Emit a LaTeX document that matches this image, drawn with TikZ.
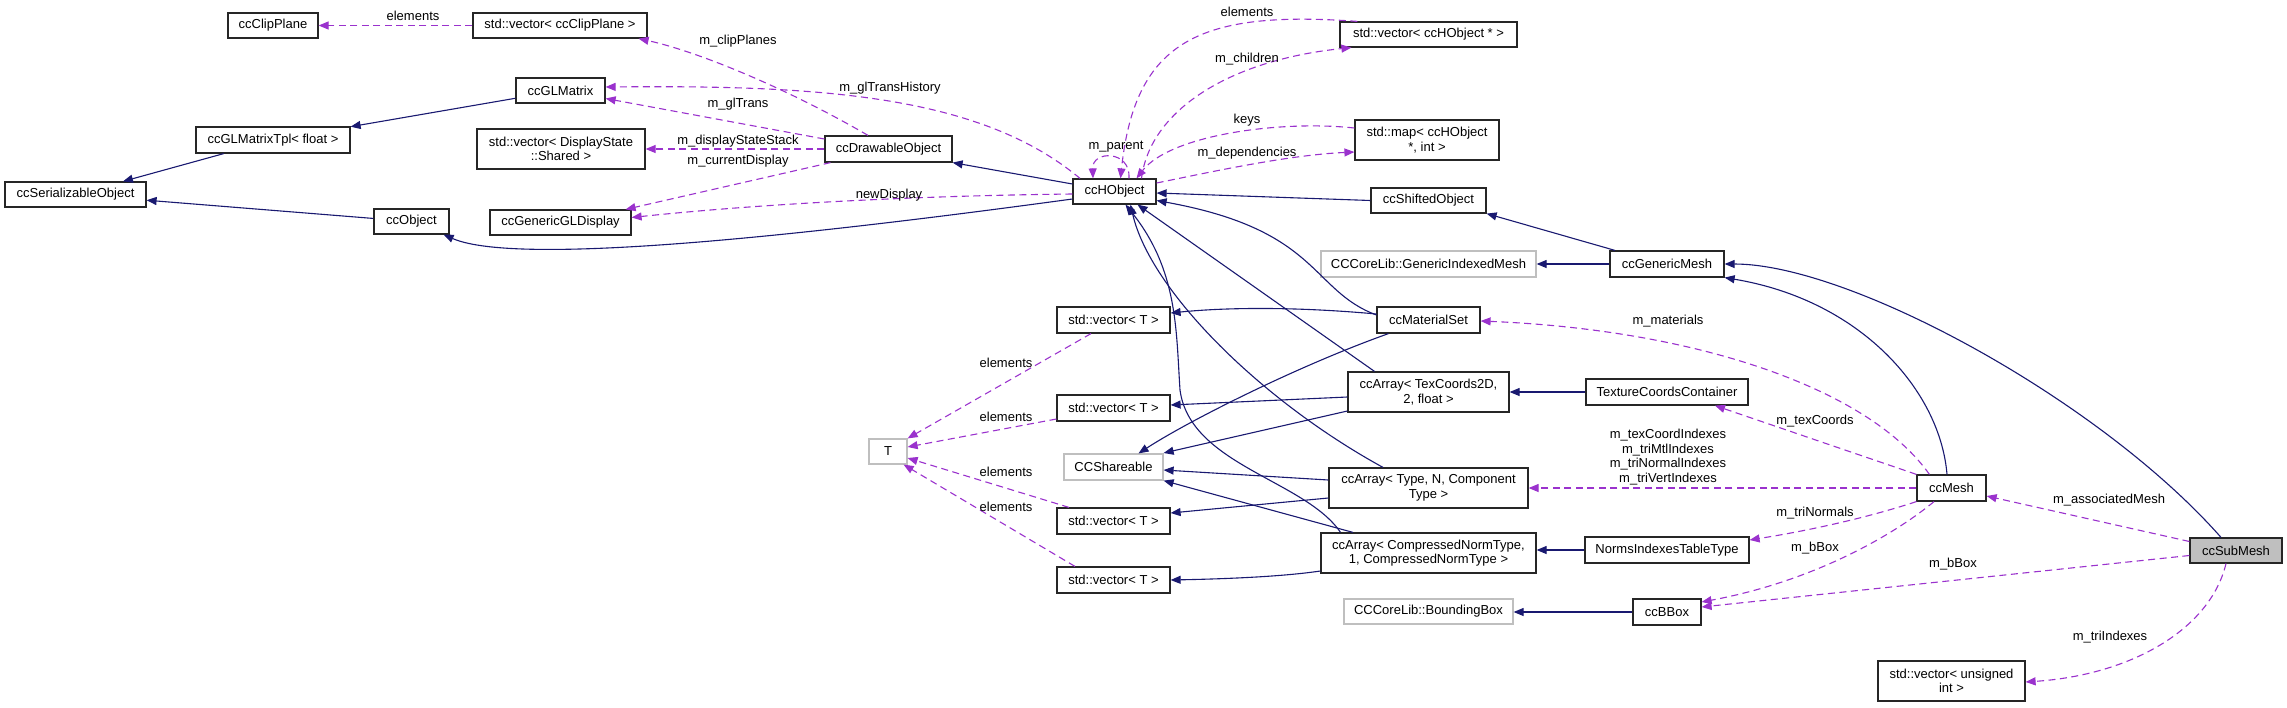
\documentclass[tikz,border=0pt]{standalone}
\usepackage{fontspec}
\setmainfont{Liberation Sans}
\usetikzlibrary{arrows.meta,calc}
\definecolor{inhc}{RGB}{25,25,112}
\definecolor{depc}{RGB}{154,50,205}
\definecolor{grayb}{RGB}{191,191,191}
\newcommand{\dgfont}{\fontsize{13pt}{14.6pt}\selectfont}
\tikzset{
  box/.style={draw=black!85, line width=1.2pt, fill=white, inner sep=0pt, minimum height=25pt, align=center, font=\dgfont},
  tall/.style={minimum height=40pt},
  graybox/.style={box, draw=grayb},
  focus/.style={box, fill=grayb},
  inh/.style={draw=inhc, line width=1.1pt, -{Triangle[length=10pt,width=8pt]}},
  dep/.style={draw=depc, line width=1.1pt, dash pattern=on 7pt off 4.5pt, -{Triangle[length=10pt,width=8pt]}},
  lbl/.style={inner sep=0pt, font=\dgfont, align=center}
}
\begin{document}
\begin{tikzpicture}[x=1pt,y=-1pt]
\useasboundingbox (0,0) rectangle (2287,707);
% nodes
\node[box, minimum width=90pt] (ccClipPlane) at (273,25.5) {ccClipPlane};
\node[box, minimum width=174pt] (vecClip) at (560,25.5) {std::vector< ccClipPlane >};
\node[box, minimum width=89pt] (ccGLMatrix) at (560.5,90.5) {ccGLMatrix};
\node[box, minimum width=154pt, minimum height=26pt] (ccGLMatrixTpl) at (273,140) {ccGLMatrixTpl< float >};
\node[box, tall, minimum width=168pt] (vecDisp) at (561,149) {std::vector< DisplayState\\::Shared >};
\node[box, minimum width=141pt] (ccSer) at (75.5,194.5) {ccSerializableObject};
\node[box, minimum width=75pt] (ccObject) at (411.5,221.5) {ccObject};
\node[box, minimum width=141pt] (ccGLDisp) at (560.5,222.5) {ccGenericGLDisplay};
\node[box, minimum width=127pt, minimum height=26pt] (ccDrawable) at (888.5,149) {ccDrawableObject};
\node[box, minimum width=83pt] (ccHObject) at (1114.5,191.5) {ccHObject};
\node[box, minimum width=177pt] (vecHObj) at (1428.5,34.5) {std::vector< ccHObject * >};
\node[box, tall, minimum width=144pt] (mapHObj) at (1427,140) {std::map< ccHObject\\*, int >};
\node[box, minimum width=115pt] (ccShifted) at (1428.5,200.5) {ccShiftedObject};
\node[graybox, minimum width=215pt, minimum height=26pt] (genIdxMesh) at (1428.5,264) {CCCoreLib::GenericIndexedMesh};
\node[box, minimum width=114pt, minimum height=26pt] (ccGenMesh) at (1667,264) {ccGenericMesh};
\node[box, minimum width=103pt, minimum height=26pt] (ccMatSet) at (1428.5,320) {ccMaterialSet};
\node[box, tall, minimum width=161pt] (ccArrayTex) at (1428.5,392) {ccArray< TexCoords2D,\\2, float >};
\node[box, minimum width=162pt, minimum height=26pt] (texCont) at (1667,392) {TextureCoordsContainer};
\node[box, minimum width=113pt, minimum height=26pt] (vecT1) at (1113.5,320) {std::vector< T >};
\node[box, minimum width=113pt, minimum height=26pt] (vecT2) at (1113.5,408) {std::vector< T >};
\node[graybox, minimum width=38pt] (T) at (888,451.5) {T};
\node[graybox, minimum width=99pt, minimum height=26pt] (ccShare) at (1113.5,467) {CCShareable};
\node[box, minimum width=113pt, minimum height=26pt] (vecT3) at (1113.5,521) {std::vector< T >};
\node[box, tall, minimum width=199pt] (ccArrayType) at (1428.5,488) {ccArray< Type, N, Component\\Type >};
\node[box, tall, minimum width=215pt] (ccArrayComp) at (1428.5,553) {ccArray< CompressedNormType,\\1, CompressedNormType >};
\node[box, minimum width=113pt, minimum height=26pt] (vecT4) at (1113.5,580) {std::vector< T >};
\node[box, minimum width=164pt, minimum height=26pt] (norms) at (1667,550) {NormsIndexesTableType};
\node[graybox, minimum width=169pt] (bbox) at (1428.5,611.5) {CCCoreLib::BoundingBox};
\node[box, minimum width=68pt, minimum height=26pt] (ccBBox) at (1667,612) {ccBBox};
\node[box, minimum width=69pt, minimum height=26pt] (ccMesh) at (1951.5,488) {ccMesh};
\node[focus, minimum width=92pt] (ccSubMesh) at (2236,550.5) {ccSubMesh};
\node[box, tall, minimum width=147pt] (vecUInt) at (1951.5,681) {std::vector< unsigned\\int >};

% inheritance edges
\draw[inh] (ccGLMatrix) -- (ccGLMatrixTpl);
\draw[inh] (ccGLMatrixTpl) -- (ccSer);
\draw[inh] (ccObject) -- (ccSer);
\draw[inh] ([yshift=-7.5pt]ccHObject.west) .. controls (830,232) and (520,268) .. ([xshift=-6pt]ccObject.south east);
\draw[inh] ([yshift=7.5pt]ccHObject.west) -- (ccDrawable.south east);
\draw[inh] (ccShifted.west) -- ([yshift=-1.5pt]ccHObject.east);
\draw[inh] ([xshift=-52pt]ccGenMesh.north) -- (ccShifted.south east);
\draw[inh] (ccGenMesh.west) -- (genIdxMesh.east);
\draw[inh] ([xshift=-4.5pt]ccMesh.north) .. controls (1940,390) and (1860,300) .. (ccGenMesh.south east);
\draw[inh] ([xshift=-15pt]ccSubMesh.north) .. controls (2100,400) and (1850,264) .. (ccGenMesh.east);
\draw[inh] ([yshift=5pt]ccMatSet.west) .. controls (1310,290) and (1320,230) .. ([yshift=-9pt]ccHObject.east);
\draw[inh] ([yshift=6pt]ccMatSet.west) .. controls (1300,307) and (1230,307) .. ([yshift=7pt]vecT1.east);
\draw[inh] ([xshift=-40pt]ccMatSet.south) .. controls (1300,365) and (1190,420) .. ([xshift=25pt]ccShare.north);
\draw[inh] ([xshift=-54pt]ccArrayTex.north) -- ([xshift=23pt]ccHObject.south);
\draw[inh] ([yshift=-5pt]ccArrayTex.west) -- ([yshift=3pt]vecT2.east);
\draw[inh] ([yshift=-19pt]ccArrayTex.west) -- ([yshift=14pt]ccShare.east);
\draw[inh] (texCont.west) -- (ccArrayTex.east);
\draw[inh] ([xshift=-45.5pt]ccArrayType.north) .. controls (1260,400) and (1150,290) .. ([xshift=16pt]ccHObject.south);
\draw[inh] ([xshift=-88pt]ccArrayComp.north) .. controls (1305,480) and (1190,465) .. (1180,390) .. controls (1176,330) and (1178,270) .. ([xshift=11pt]ccHObject.south);
\draw[inh] ([yshift=8pt]ccArrayType.west) -- ([yshift=-3pt]ccShare.east);
\draw[inh] ([yshift=-10pt]ccArrayType.west) -- ([yshift=8pt]vecT3.east);
\draw[inh] ([xshift=-75.5pt]ccArrayComp.north) -- (ccShare.south east);
\draw[inh] ([yshift=-18pt]ccArrayComp.west) .. controls (1280,577) and (1220,579) .. (vecT4.east);
\draw[inh] (norms.west) -- (norms.west -| ccArrayComp.east);
\draw[inh] (ccBBox.west) -- (ccBBox.west -| bbox.east);

% usage edges
\draw[dep] (vecClip.west) -- (ccClipPlane.east);
\draw[dep] ([xshift=-20.5pt]ccDrawable.north) .. controls (790,90) and (700,52) .. ([xshift=-9pt]vecClip.south east);
\draw[dep] ([xshift=-34.5pt]ccHObject.north) .. controls (980,95) and (820,85) .. ([yshift=3.5pt]ccGLMatrix.east);
\draw[dep] ([yshift=10pt]ccDrawable.west) -- ([yshift=-8pt]ccGLMatrix.east);
\draw[dep] (ccDrawable.west) -- (vecDisp.east);
\draw[dep] ([xshift=-58pt]ccDrawable.south) -- ([xshift=-6pt]ccGLDisp.north east);
\draw[dep] ([yshift=-2.5pt]ccHObject.west) .. controls (900,196) and (750,205) .. ([yshift=5pt]ccGLDisp.east);
\draw[dep] ([xshift=14.5pt]ccHObject.north) .. controls (1131,150) and (1092,150) .. ([xshift=-21.5pt]ccHObject.north);
\draw[dep] ([xshift=18pt]vecHObj.north west) .. controls (1200,10) and (1135,40) .. ([xshift=6pt]ccHObject.north);
\draw[dep] ([xshift=27pt]ccHObject.north) .. controls (1150,110) and (1230,60) .. ([xshift=12pt]vecHObj.south west);
\draw[dep] ([yshift=12pt]mapHObj.west) .. controls (1280,120) and (1170,135) .. ([xshift=22pt]ccHObject.north);
\draw[dep] ([yshift=8.5pt]ccHObject.east) .. controls (1220,170) and (1290,155) .. ([yshift=-12pt]mapHObj.west);
\draw[dep] ([xshift=13pt]ccMesh.north west) .. controls (1870,390) and (1700,330) .. ([yshift=-1pt]ccMatSet.east);
\draw[dep] (ccMesh.north west) -- ([xshift=48pt]texCont.south);
\draw[dep] (ccMesh.west) -- (ccArrayType.east);
\draw[dep] (ccMesh.south west) .. controls (1860,520) and (1800,532) .. ([yshift=10pt]norms.east);
\draw[dep] ([xshift=-17.5pt]ccMesh.south) .. controls (1900,530) and (1820,580) .. ([yshift=10pt]ccBBox.east);
\draw[dep] ([yshift=9pt]ccSubMesh.west) -- ([yshift=-8pt]ccMesh.east);
\draw[dep] ([yshift=-5pt]ccSubMesh.west) -- ([yshift=5pt]ccBBox.east);
\draw[dep] ([xshift=-10pt]ccSubMesh.south) .. controls (2210,630) and (2130,675) .. ([yshift=-1pt]vecUInt.east);
\draw[dep] ([xshift=-22.5pt]vecT1.south) -- (T.north east);
\draw[dep] ([yshift=-11pt]vecT2.west) -- ([yshift=4.5pt]T.east);
\draw[dep] ([xshift=-44.5pt]vecT3.north) -- ([yshift=-6.5pt]T.east);
\draw[dep] ([xshift=-38.5pt]vecT4.north) -- ([xshift=-4pt]T.south east);

% labels
\node[lbl] (l1) at (413,16) {elements};
\node[lbl] (l2) at (738,41) {m\_clipPlanes};
\node[lbl] (l3) at (890,88) {m\_glTransHistory};
\node[lbl] (l4) at (738,104.5) {m\_glTrans};
\node[lbl] (l5) at (738,141) {m\_displayStateStack};
\node[lbl] (l6) at (738,161) {m\_currentDisplay};
\node[lbl] (l7) at (889,195) {newDisplay};
\node[lbl] (l8) at (1116,147) {m\_parent};
\node[lbl] (l9) at (1247,12) {elements};
\node[lbl] (l10) at (1247,59) {m\_children};
\node[lbl] (l11) at (1247,120) {keys};
\node[lbl] (l12) at (1247,153) {m\_dependencies};
\node[lbl] (l13) at (1668,321) {m\_materials};
\node[lbl] (l14) at (1815,421) {m\_texCoords};
\node[lbl] (l15) at (1668,457) {m\_texCoordIndexes\\m\_triMtlIndexes\\m\_triNormalIndexes\\m\_triVertIndexes};
\node[lbl] (l16) at (1815,513) {m\_triNormals};
\node[lbl] (l17) at (1815,548) {m\_bBox};
\node[lbl] (l18) at (2109,500) {m\_associatedMesh};
\node[lbl] (l19) at (1953,564) {m\_bBox};
\node[lbl] (l20) at (2110,637) {m\_triIndexes};
\node[lbl] (l21) at (1006,363) {elements};
\node[lbl] (l22) at (1006,417) {elements};
\node[lbl] (l23) at (1006,472) {elements};
\node[lbl] (l24) at (1006,507) {elements};
\end{tikzpicture}
\end{document}
